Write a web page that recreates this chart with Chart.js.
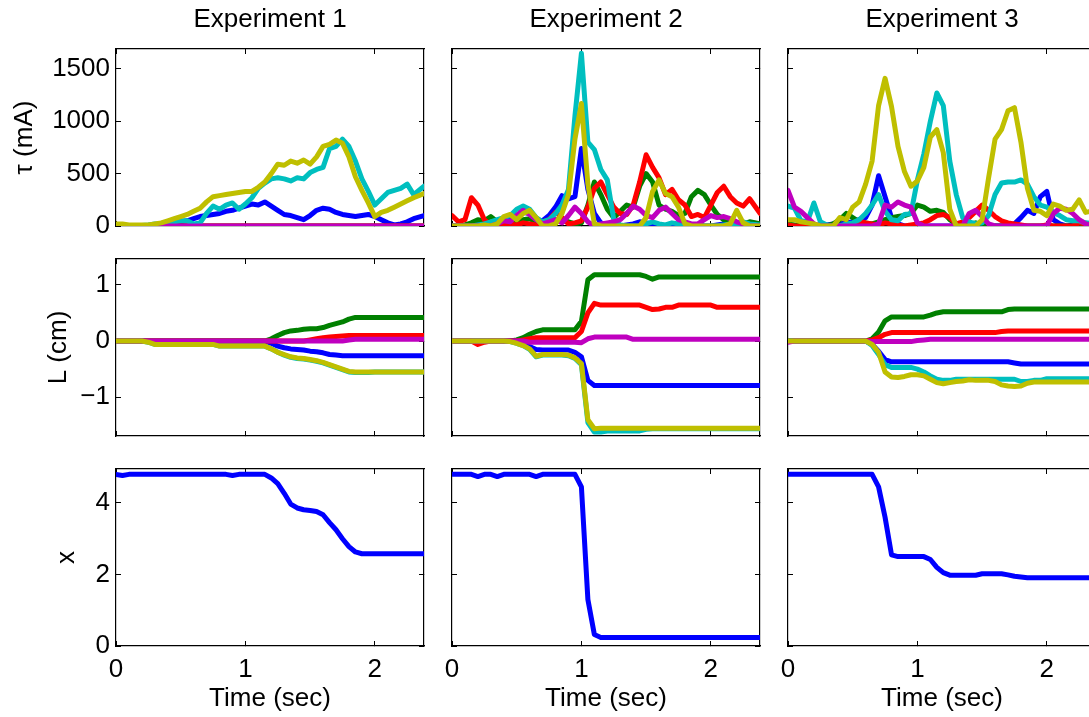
<!DOCTYPE html>
<html>
<head>
<meta charset="utf-8">
<script src="https://cdn.jsdelivr.net/npm/chart.js@4"></script>
<style>
  html, body { margin: 0; padding: 0; background: #fff; }
  body { position: relative; width: 1089px; height: 717px; overflow: hidden; }
  canvas { position: absolute; }
</style>
</head>
<body>
<script>
// sample times (sec), shared by every series
const times = [0,0.05,0.1,0.15,0.2,0.25,0.3,0.35,0.4,0.45,0.5,0.55,0.6,0.65,0.7,0.75,0.8,0.85,0.9,0.95,
  1,1.05,1.1,1.15,1.2,1.25,1.3,1.35,1.4,1.45,1.5,1.55,1.6,1.65,1.7,1.75,1.8,1.85,1.9,1.95,
  2,2.05,2.1,2.15,2.2,2.25,2.3,2.38];

const experiments = ['Experiment 1', 'Experiment 2', 'Experiment 3'];
const rowLabels = ['τ (mA)', 'L (cm)', 'x'];
const timeLabel = 'Time (sec)';

const timeTicks = [0, 1, 2];
const tauTicks = [0, 500, 1000, 1500];
const lenTicks = [-1, 0, 1];
const posTicks = [0, 2, 4];

// MATLAB order: blue, green, red, cyan, magenta, yellow
const seriesColors = ['#0000ff', '#008000', '#ff0000', '#00bfbf', '#bf00bf', '#bfbf00'];

// ---- tension, experiment 1
const tauE1Blue = [0,0,0,0,0,0,0,10,20,30,40,50,70,90,100,110,120,140,150,170,190,210,200,230,190,150,110,100,80,60,100,150,170,160,130,110,100,90,100,110,90,60,30,10,20,40,70,100];
const tauE1Green = [0,0,0,0,0,0,0,0,0,0,0,0,0,0,0,0,0,0,0,0,0,0,0,0,0,0,0,0,0,0,0,0,0,0,0,0,0,0,0,0,0,0,0,0,0,0,0,0];
const tauE1Red = [0,0,0,0,0,0,0,0,0,0,0,0,0,0,0,0,0,0,0,0,0,0,0,0,0,0,0,0,0,0,0,0,0,0,0,0,0,0,0,0,0,0,0,0,0,0,0,0];
const tauE1Cyan = [10,5,5,5,5,10,20,20,30,40,50,50,20,30,120,190,160,200,220,160,210,270,360,410,450,460,450,430,460,450,510,540,560,740,760,830,760,620,450,330,200,260,320,340,360,400,300,380];
const tauE1Magenta = [0,0,0,0,0,0,0,0,0,0,0,0,0,0,0,0,0,0,0,0,0,0,0,0,0,0,0,0,0,0,0,0,0,0,0,0,0,0,0,0,0,0,0,0,0,0,0,0];
const tauE1Yellow = [20,20,10,10,10,10,20,30,50,70,90,110,140,170,230,280,290,300,310,320,330,330,370,420,500,590,580,620,600,630,590,660,760,780,820,790,660,470,340,220,90,130,150,180,210,240,270,310];

// ---- tension, experiment 2
const tauE2Blue = [0,0,0,10,30,30,20,40,60,80,100,130,120,60,50,100,180,290,260,280,740,350,120,30,10,0,0,10,20,40,30,20,10,0,0,20,10,0,10,0,0,10,20,10,0,20,30,20];
const tauE2Green = [0,0,10,30,60,50,90,40,20,30,40,60,70,40,30,40,60,50,40,20,30,200,420,300,160,80,140,200,180,380,500,420,200,160,140,100,120,280,340,300,200,110,60,40,30,20,40,20];
const tauE2Red = [100,40,60,270,200,60,10,20,0,20,10,30,20,10,40,60,130,80,20,30,50,180,360,420,300,180,120,110,200,420,680,560,460,300,350,250,200,90,110,80,200,320,380,280,220,190,260,120];
const tauE2Cyan = [0,0,0,0,10,20,40,60,80,100,160,190,160,80,40,60,120,200,350,1050,1650,800,730,540,440,60,10,0,0,0,20,40,20,10,30,20,10,0,0,0,0,0,10,20,10,40,20,10];
const tauE2Magenta = [0,0,0,0,0,0,0,20,50,40,100,150,110,60,20,40,60,30,100,180,120,40,0,20,30,40,60,120,190,160,100,80,150,180,120,60,40,20,20,60,100,80,90,70,40,20,0,0];
const tauE2Yellow = [0,0,0,0,0,10,0,20,90,110,60,120,150,80,0,0,20,120,300,830,1170,400,20,0,0,0,0,0,0,0,80,330,440,310,280,180,20,0,0,0,0,0,0,20,150,30,0,0];

// ---- tension, experiment 3
const tauE3Blue = [0,0,0,0,0,0,10,20,20,30,40,60,80,200,480,280,80,20,0,0,0,0,0,0,0,0,0,0,0,0,0,0,0,0,0,20,80,150,120,280,330,60,20,0,10,30,20,10];
const tauE3Green = [20,10,0,0,0,0,0,20,60,120,80,40,30,20,40,60,80,90,100,120,200,180,140,150,130,60,20,10,20,30,10,0,0,0,0,0,0,0,0,0,0,0,0,0,0,0,0,0];
const tauE3Red = [10,0,0,0,0,0,0,0,0,0,20,50,30,20,10,30,20,10,0,10,20,30,60,100,110,80,20,40,80,140,200,150,90,50,30,20,10,0,0,0,10,0,0,0,0,30,20,10];
const tauE3Cyan = [190,170,50,40,220,40,10,0,0,20,30,60,120,200,300,140,60,50,110,120,440,690,1000,1270,1150,620,300,80,40,20,30,100,300,410,420,420,440,400,280,200,180,130,100,60,50,50,30,20];
const tauE3Magenta = [340,180,140,80,20,0,0,0,0,0,0,0,0,0,20,200,180,230,200,180,30,0,0,0,0,0,0,0,120,150,90,20,0,0,0,0,0,0,0,0,0,120,170,160,120,60,20,0];
const tauE3Yellow = [60,60,40,30,20,0,0,0,80,60,180,230,400,620,1150,1410,1140,760,520,380,430,560,850,920,700,160,0,0,0,0,60,460,830,920,1100,1130,800,360,150,140,100,210,190,150,160,250,130,150];

// ---- length, experiment 1
const lenE1Blue = [0,0,0,0,0,0,0,0,0,0,0,0,0,0,0,0,0,0,0,0,0,0,0,0,-0.04,-0.09,-0.12,-0.14,-0.15,-0.16,-0.18,-0.19,-0.21,-0.24,-0.25,-0.26,-0.26,-0.26,-0.26,-0.26,-0.26,-0.26,-0.26,-0.26,-0.26,-0.26,-0.26,-0.26];
const lenE1Green = [0,0,0,0,0,0,0,0,0,0,0,0,0,0,0,0,0,0,0,0,0,0,0,0,0.04,0.10,0.15,0.18,0.19,0.21,0.22,0.22,0.24,0.28,0.31,0.34,0.39,0.42,0.42,0.42,0.42,0.42,0.42,0.42,0.42,0.42,0.42,0.42];
const lenE1Red = [0,0,0,0,0,0,0,0,0,0,0,0,0,0,0,0,0,0,0,0,0,0,0,0,0,0,0,0,0,0,0.02,0.04,0.06,0.07,0.08,0.09,0.1,0.1,0.1,0.1,0.1,0.1,0.1,0.1,0.1,0.1,0.1,0.1];
const lenE1Cyan = [0,0,0,0,0,-0.02,-0.06,-0.06,-0.06,-0.06,-0.06,-0.06,-0.06,-0.06,-0.06,-0.06,-0.09,-0.09,-0.09,-0.09,-0.09,-0.09,-0.09,-0.09,-0.14,-0.2,-0.25,-0.29,-0.31,-0.32,-0.34,-0.36,-0.39,-0.43,-0.47,-0.51,-0.55,-0.56,-0.56,-0.56,-0.55,-0.55,-0.55,-0.55,-0.55,-0.55,-0.55,-0.55];
const lenE1Magenta = [0,0,0,0,0,0,0,0,0,0,0,0,0,0,0,0,0,0,0,0,0,0,0,0,0,0,0,0,0,0,0,0,0,0,0,0,0.02,0.03,0.03,0.03,0.03,0.03,0.03,0.03,0.03,0.03,0.03,0.03];
const lenE1Yellow = [0,0,0,0,0,-0.02,-0.06,-0.06,-0.06,-0.06,-0.06,-0.06,-0.06,-0.06,-0.06,-0.06,-0.09,-0.09,-0.09,-0.09,-0.09,-0.09,-0.09,-0.09,-0.14,-0.2,-0.24,-0.28,-0.3,-0.31,-0.33,-0.35,-0.38,-0.42,-0.46,-0.5,-0.54,-0.55,-0.55,-0.55,-0.55,-0.55,-0.55,-0.55,-0.55,-0.55,-0.55,-0.55];

// ---- length, experiment 2
const lenE2Blue = [0,0,0,0,0,0,0,0,0,0,0,-0.04,-0.1,-0.15,-0.16,-0.16,-0.16,-0.16,-0.16,-0.2,-0.28,-0.7,-0.79,-0.79,-0.79,-0.79,-0.79,-0.79,-0.79,-0.79,-0.79,-0.79,-0.79,-0.79,-0.79,-0.79,-0.79,-0.79,-0.79,-0.79,-0.79,-0.79,-0.79,-0.79,-0.79,-0.79,-0.79,-0.79];
const lenE2Green = [0,0,0,0,0,0,0,0,0,0,0.02,0.06,0.12,0.17,0.2,0.2,0.2,0.2,0.2,0.2,0.35,1.09,1.18,1.18,1.18,1.18,1.18,1.18,1.18,1.18,1.15,1.1,1.14,1.14,1.14,1.14,1.14,1.14,1.14,1.14,1.14,1.14,1.14,1.14,1.14,1.14,1.14,1.14];
const lenE2Red = [0,0,0,0,-0.06,-0.02,0,0,0,0,0,0.02,0.04,0.06,0.06,0.06,0.06,0.06,0.06,0.06,0.17,0.5,0.67,0.64,0.64,0.64,0.64,0.64,0.64,0.64,0.6,0.56,0.57,0.6,0.6,0.64,0.64,0.64,0.64,0.64,0.64,0.6,0.6,0.6,0.6,0.6,0.6,0.6];
const lenE2Cyan = [0,0,0,0,0,0,0,0,0,-0.01,-0.04,-0.08,-0.15,-0.28,-0.25,-0.25,-0.25,-0.25,-0.26,-0.31,-0.42,-1.45,-1.62,-1.62,-1.6,-1.6,-1.6,-1.6,-1.6,-1.6,-1.57,-1.56,-1.56,-1.56,-1.56,-1.56,-1.56,-1.56,-1.56,-1.56,-1.56,-1.56,-1.56,-1.56,-1.56,-1.56,-1.56,-1.56];
const lenE2Magenta = [0,0,0,0,0,0,0,0,0,0,0,0,-0.02,-0.02,-0.02,-0.02,-0.02,-0.02,-0.02,-0.02,-0.03,0.04,0.07,0.07,0.07,0.07,0.07,0.07,0.03,0.03,0.03,0.03,0.03,0.03,0.03,0.03,0.03,0.03,0.03,0.03,0.03,0.03,0.03,0.03,0.03,0.03,0.03,0.03];
const lenE2Yellow = [0,0,0,0,0,0,0,0,0,-0.01,-0.04,-0.08,-0.14,-0.27,-0.24,-0.24,-0.24,-0.24,-0.25,-0.3,-0.4,-1.4,-1.56,-1.55,-1.55,-1.55,-1.55,-1.55,-1.55,-1.55,-1.55,-1.55,-1.55,-1.55,-1.55,-1.55,-1.55,-1.55,-1.55,-1.55,-1.55,-1.55,-1.55,-1.55,-1.55,-1.55,-1.55,-1.55];

// ---- length, experiment 3
const lenE3Blue = [0,0,0,0,0,0,0,0,0,0,0,0,0,-0.06,-0.18,-0.33,-0.37,-0.37,-0.37,-0.37,-0.37,-0.37,-0.37,-0.37,-0.37,-0.37,-0.37,-0.37,-0.37,-0.37,-0.37,-0.37,-0.37,-0.37,-0.37,-0.39,-0.41,-0.41,-0.41,-0.41,-0.41,-0.41,-0.41,-0.41,-0.41,-0.41,-0.41,-0.41];
const lenE3Green = [0,0,0,0,0,0,0,0,0,0,0,0,0,0.04,0.16,0.36,0.43,0.43,0.43,0.43,0.43,0.43,0.46,0.5,0.52,0.52,0.52,0.52,0.52,0.52,0.52,0.52,0.52,0.52,0.56,0.57,0.57,0.57,0.57,0.57,0.57,0.57,0.57,0.57,0.57,0.57,0.57,0.57];
const lenE3Red = [0,0,0,0,0,0,0,0,0,0,0,0,0,0.02,0.06,0.12,0.15,0.15,0.15,0.15,0.15,0.15,0.15,0.15,0.15,0.15,0.15,0.15,0.15,0.15,0.15,0.15,0.15,0.17,0.18,0.18,0.18,0.18,0.18,0.18,0.18,0.18,0.18,0.18,0.18,0.18,0.18,0.18];
const lenE3Cyan = [0,0,0,0,0,0,0,0,0,0,0,0,0,-0.08,-0.24,-0.42,-0.47,-0.47,-0.47,-0.47,-0.5,-0.55,-0.62,-0.68,-0.7,-0.7,-0.68,-0.68,-0.68,-0.68,-0.68,-0.68,-0.68,-0.68,-0.68,-0.68,-0.72,-0.72,-0.7,-0.7,-0.67,-0.67,-0.67,-0.67,-0.67,-0.67,-0.67,-0.67];
const lenE3Magenta = [-0.02,0,0,0,0,0,0,0,0,0,0,0,0,-0.01,-0.01,-0.01,-0.01,-0.01,-0.01,-0.01,0.01,0.02,0.03,0.03,0.03,0.03,0.03,0.03,0.03,0.03,0.03,0.03,0.03,0.03,0.03,0.03,0.03,0.03,0.03,0.03,0.03,0.03,0.03,0.03,0.03,0.03,0.03,0.03];
const lenE3Yellow = [0,0,0,0,0,0,0,0,0,0,0,0,0,-0.06,-0.2,-0.55,-0.64,-0.65,-0.63,-0.6,-0.6,-0.62,-0.68,-0.74,-0.76,-0.74,-0.72,-0.71,-0.69,-0.7,-0.7,-0.7,-0.72,-0.78,-0.8,-0.81,-0.8,-0.75,-0.73,-0.73,-0.73,-0.73,-0.73,-0.73,-0.73,-0.73,-0.73,-0.73];

// ---- position
const posE1 = [4.8,4.77,4.8,4.8,4.8,4.8,4.8,4.8,4.8,4.8,4.8,4.8,4.8,4.8,4.8,4.8,4.8,4.8,4.77,4.8,4.8,4.8,4.8,4.8,4.7,4.54,4.27,3.97,3.86,3.81,3.79,3.76,3.67,3.45,3.25,3.0,2.78,2.63,2.58,2.58,2.58,2.58,2.58,2.58,2.58,2.58,2.58,2.58];
const posE2 = [4.8,4.8,4.8,4.8,4.74,4.8,4.8,4.74,4.8,4.8,4.8,4.8,4.8,4.74,4.8,4.8,4.8,4.8,4.8,4.8,4.45,1.3,0.32,0.24,0.24,0.24,0.24,0.24,0.24,0.24,0.24,0.24,0.24,0.24,0.24,0.24,0.24,0.24,0.24,0.24,0.24,0.24,0.24,0.24,0.24,0.24,0.24,0.24];
const posE3 = [4.8,4.8,4.8,4.8,4.8,4.8,4.8,4.8,4.8,4.8,4.8,4.8,4.8,4.8,4.45,3.6,2.55,2.5,2.5,2.5,2.5,2.5,2.42,2.2,2.05,1.98,1.98,1.98,1.98,1.98,2.02,2.02,2.02,2.02,1.99,1.95,1.93,1.91,1.91,1.91,1.91,1.91,1.91,1.91,1.91,1.91,1.91,1.91];

const panelSeries = [
  [
    [tauE1Blue, tauE1Green, tauE1Red, tauE1Cyan, tauE1Magenta, tauE1Yellow],
    [tauE2Blue, tauE2Green, tauE2Red, tauE2Cyan, tauE2Magenta, tauE2Yellow],
    [tauE3Blue, tauE3Green, tauE3Red, tauE3Cyan, tauE3Magenta, tauE3Yellow]
  ],
  [
    [lenE1Blue, lenE1Green, lenE1Red, lenE1Cyan, lenE1Magenta, lenE1Yellow],
    [lenE2Blue, lenE2Green, lenE2Red, lenE2Cyan, lenE2Magenta, lenE2Yellow],
    [lenE3Blue, lenE3Green, lenE3Red, lenE3Cyan, lenE3Magenta, lenE3Yellow]
  ],
  [[posE1], [posE2], [posE3]]
];

// per-row y axis settings
const rowAxes = [
  { min: 0, max: 1690, ticks: tauTicks, labelPad: 9.4 },
  { min: -1.69, max: 1.46, ticks: lenTicks, labelPad: 43.4 },
  { min: 0, max: 4.95, ticks: posTicks, labelPad: 51.4 }
];

// page geometry of the plot boxes
const colLeft = [116, 452, 788];
const rowTop = [49, 259, 469];
const plotW = 308, plotH = 177;
const timeMax = 2.38;

const FONT = { family: '"Liberation Sans", Arial, Helvetica, sans-serif', size: 26 };

function axis(position, min, max, tickValues, size, showLabels, tickPadding, title) {
  return {
    type: 'linear',
    position: position,
    min: min,
    max: max,
    afterBuildTicks: s => { s.ticks = tickValues.map(v => ({ value: v })); },
    afterFit: s => {
      if (s.isHorizontal()) s.height = size; else s.width = size;
      s.paddingLeft = 0; s.paddingRight = 0; s.paddingTop = 0; s.paddingBottom = 0;
    },
    grid: { drawOnChartArea: false, drawTicks: true, tickLength: -5, color: '#000', lineWidth: 1 },
    border: { display: true, color: '#000', width: 1.2 },
    ticks: {
      display: showLabels,
      padding: tickPadding,
      color: '#000',
      font: FONT,
      autoSkip: false,
      maxRotation: 0,
      callback: v => String(v).replace('-', '\u2212')
    },
    title: title
      ? { display: true, text: title.text, color: '#000', font: FONT, padding: title.padding }
      : { display: false }
  };
}

for (let r = 0; r < 3; r++) {
  for (let c = 0; c < 3; c++) {
    const padL = c === 0 ? 116 : 10;
    const padR = 10;
    const padT = r === 0 ? 49 : 10;
    const padB = r === 2 ? 71 : 20;

    const canvas = document.createElement('canvas');
    canvas.width = plotW + padL + padR;
    canvas.height = plotH + padT + padB;
    canvas.style.left = (colLeft[c] - padL) + 'px';
    canvas.style.top = (rowTop[r] - padT) + 'px';
    document.body.appendChild(canvas);

    const series = panelSeries[r][c];
    const datasets = series.map((vals, k) => ({
      data: vals.map((v, i) => ({ x: times[i], y: v })),
      borderColor: seriesColors[k],
      backgroundColor: seriesColors[k],
      order: series.length - 1 - k
    }));

    const ya = rowAxes[r];
    new Chart(canvas, {
      type: 'line',
      data: { datasets: datasets },
      options: {
        responsive: false,
        animation: false,
        events: [],
        layout: { padding: 0 },
        plugins: { legend: { display: false }, tooltip: { enabled: false } },
        elements: {
          point: { radius: 0 },
          line: { borderWidth: 5, tension: 0, borderCapStyle: 'round', borderJoinStyle: 'round' }
        },
        scales: {
          x: axis('bottom', 0, timeMax, timeTicks, padB, r === 2, 13.4,
            r === 2 ? { text: timeLabel, padding: { top: 0, bottom: 2.4 } } : null),
          x2: axis('top', 0, timeMax, timeTicks, padT, false, 0,
            r === 0 ? { text: experiments[c], padding: { top: 4.4, bottom: 0 } } : null),
          y: axis('left', ya.min, ya.max, ya.ticks, padL, c === 0, 11,
            c === 0 ? { text: rowLabels[r], padding: { top: ya.labelPad, bottom: 0 } } : null),
          y2: axis('right', ya.min, ya.max, ya.ticks, padR, false, 0, null)
        }
      }
    });
  }
}
</script>
</body>
</html>
